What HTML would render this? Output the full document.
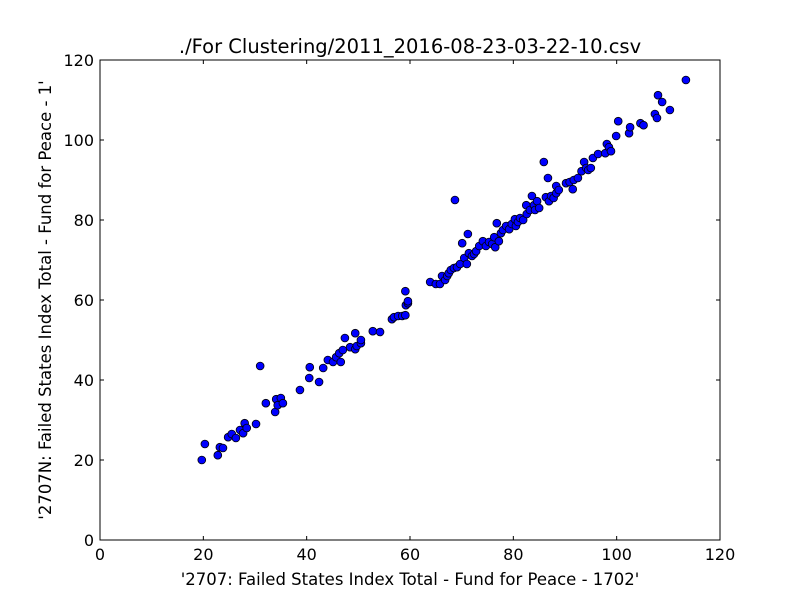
<!DOCTYPE html>
<html><head><meta charset="utf-8"><style>
body{margin:0;background:#fff;}
svg{display:block;font-family:"DejaVu Sans","Liberation Sans",sans-serif;}
</style></head><body>
<svg id="chart" width="800" height="600" xmlns="http://www.w3.org/2000/svg">
<rect width="800" height="600" fill="#fff"/>
<text x="410" y="53" font-size="19.5" text-anchor="middle">./For Clustering/2011_2016-08-23-03-22-10.csv</text>
<text x="410" y="585" font-size="16.5" text-anchor="middle">'2707: Failed States Index Total - Fund for Peace - 1702'</text>
<text transform="translate(51,300) rotate(-90)" font-size="16.5" text-anchor="middle">'2707N: Failed States Index Total - Fund for Peace - 1'</text>
<g id="ticks"></g>
<g id="points"></g>
<rect x="100" y="60" width="620" height="480" fill="none" stroke="#000" stroke-width="1"/>
</svg>
<script>
const xTicks=[0,20,40,60,80,100,120];
const yTicks=[0,20,40,60,80,100,120];
const xVals=[19.7,20.3,22.8,23.2,23.8,24.8,25.5,26.3,27.1,27.7,28,28.4,30.2,31,32.1,33.9,34.1,34.4,35,35.4,38.7,40.5,40.6,42.4,43.2,44.1,45.1,45.7,46.3,46.6,47,47.4,48.4,49.4,49.4,49.7,50.5,50.5,52.8,54.2,56.5,56.9,57.7,58.5,59.1,59.1,59.2,59.6,59.6,63.9,65,65.8,66.2,66.8,67.2,67.5,67.9,68.5,68.7,69.1,69.7,70.1,70.5,71,71.2,71.4,72,72.4,72.8,73.4,74.1,74.7,75.3,75.9,76.3,76.5,76.8,77.2,77.6,78,78.6,79.2,79.7,80.3,80.5,80.9,81.3,81.9,82.5,82.6,83.2,83.6,84,84.2,84.6,85,85.9,86.3,86.7,86.9,87.3,87.8,88.3,88.3,88.8,90.2,90.9,91.5,91.7,92.5,93.2,93.7,94.1,94.5,95,95.4,96.4,97.8,98.1,98.5,98.9,99.9,100.3,102.4,102.6,104.6,105.2,107.4,107.8,108,108.8,110.3,113.4];
const yVals=[20,24,21.2,23.2,23,25.7,26.5,25.5,27.5,26.7,29.2,28,29,43.5,34.2,32,35.2,33.7,35.5,34.2,37.5,40.5,43.2,39.5,43,45,44.5,45.7,46.7,44.5,47.5,50.5,48.2,51.7,47.7,48.5,49.2,50,52.2,52,55.2,55.7,56,56,62.2,56.2,58.7,59.2,59.7,64.5,64,64,66,65,66,66.7,67.5,68,85,68.2,69,74.2,70.5,69,76.5,71.7,71,71.5,72.2,73.5,74.7,73.5,74.5,74,75.7,73.2,79.2,74.7,76.7,77.5,78.5,77.7,79,80.2,78.5,79.5,80.5,80,83.7,81.5,82.5,86,83.7,82.5,84.7,83,94.5,85.7,90.5,84.7,86,85.5,88.5,86.7,87.5,89.2,89.5,87.7,90,90.5,92.2,94.5,93,92.5,93,95.5,96.5,96.7,99,98.2,97.2,101,104.7,101.7,103.2,104.2,103.7,106.5,105.5,111.2,109.5,107.5,115];
const NS="http://www.w3.org/2000/svg";
function xs(v){return 100+v*620/120;}
function ys(v){return 540-v*480/120;}
const tg=document.getElementById('ticks');
xTicks.forEach(t=>{
  const x=xs(t);
  const l1=document.createElementNS(NS,'path');
  l1.setAttribute('d',`M${x},540v-4M${x},60v4`);l1.setAttribute('stroke','#000');
  
  
  tg.appendChild(l1);
  const tx=document.createElementNS(NS,'text');
  tx.setAttribute('x',x);tx.setAttribute('y',560);tx.setAttribute('font-size','16');tx.setAttribute('text-anchor','middle');
  tx.textContent=t;
  
  
  tg.appendChild(tx);
});
yTicks.forEach(t=>{
  const y=ys(t);
  const l1=document.createElementNS(NS,'path');
  l1.setAttribute('d',`M100,${y}h4M720,${y}h-4`);l1.setAttribute('stroke','#000');
  
  
  tg.appendChild(l1);
  const tx=document.createElementNS(NS,'text');
  tx.setAttribute('x',94);tx.setAttribute('y',y+6);tx.setAttribute('font-size','16');tx.setAttribute('text-anchor','end');
  tx.textContent=t;
  
  
  tg.appendChild(tx);
});
const pg=document.getElementById('points');
xVals.forEach((v,i)=>{
  const c=document.createElementNS(NS,'circle');
  c.setAttribute('cx',xs(v));c.setAttribute('cy',ys(yVals[i]));c.setAttribute('r','3.9');
  c.setAttribute('fill','#0000ff');c.setAttribute('stroke','#000');c.setAttribute('stroke-width','0.8');
  
  
  pg.appendChild(c);
});
</script>
</body></html>
